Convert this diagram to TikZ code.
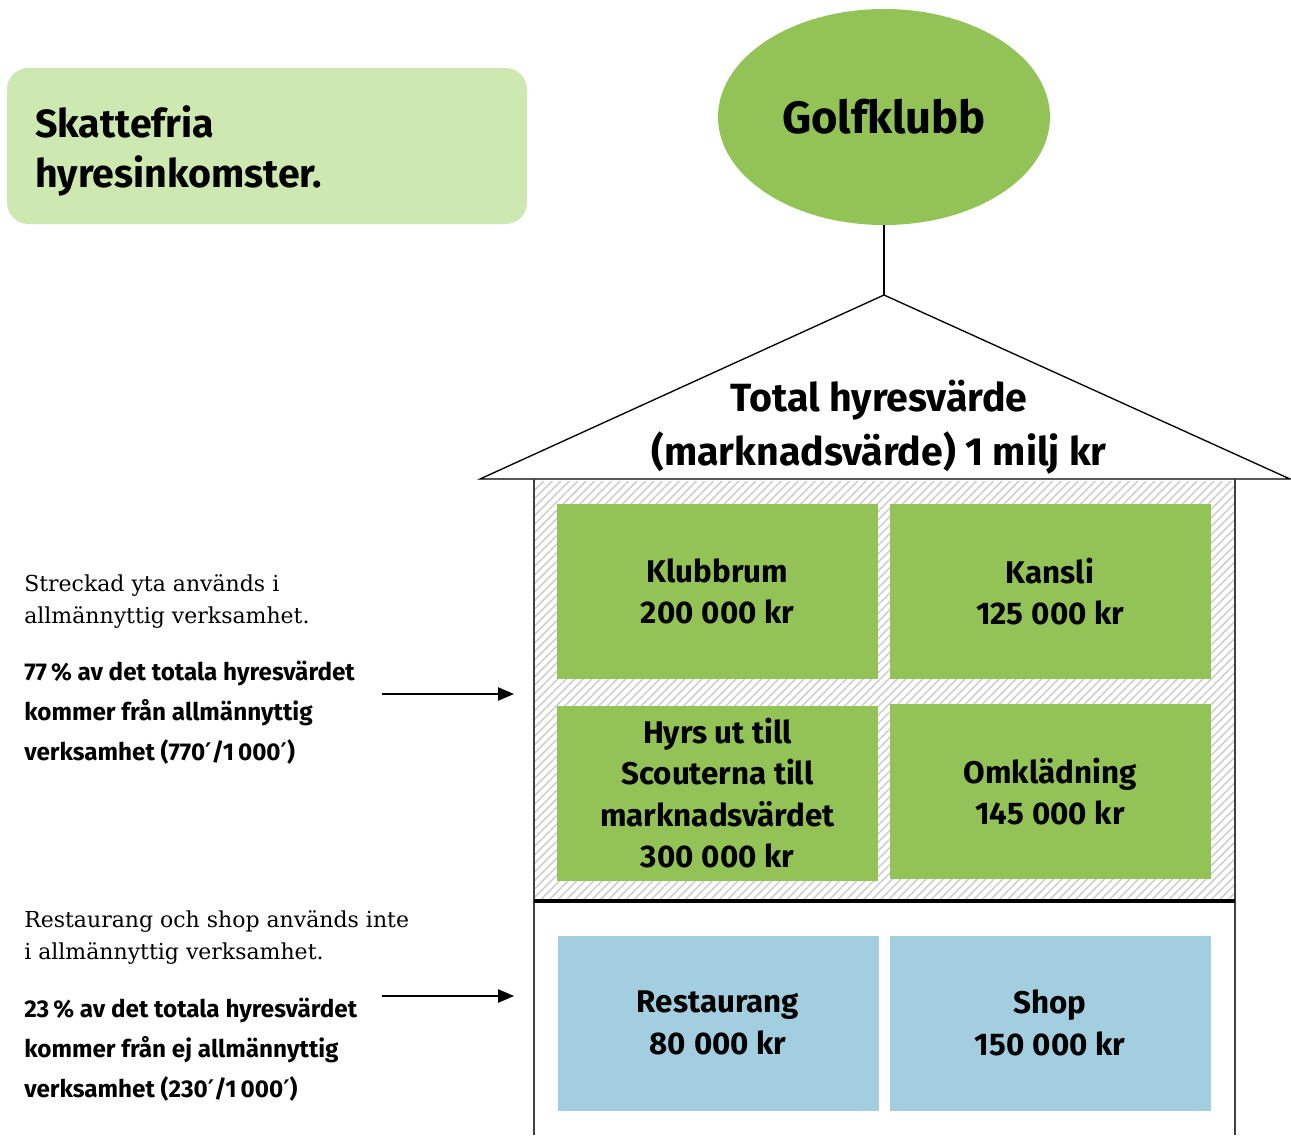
\documentclass[tikz,border=0pt]{standalone}
\usepackage{fontspec}
\setmainfont{DejaVu Serif}
\setsansfont{Fira Sans}
\newfontfamily\primefont{DejaVu Sans}
\newcommand\primemk{{\primefont\bfseries ′}}
\newcommand\numsp{\hspace{0.26em}}
\usetikzlibrary{patterns.meta,arrows.meta,shapes.geometric}
\definecolor{lgreen}{HTML}{CDE8B0}
\definecolor{mgreen}{HTML}{93C356}
\definecolor{lblue}{HTML}{A3CEDF}
\definecolor{wallgray}{HTML}{404040}
\tikzset{
  roomgreen/.style={fill=mgreen,draw=none,minimum width=240.75pt,minimum height=131.25pt,align=center,inner sep=0pt,
    font=\sffamily\bfseries\fontsize{23.5}{31}\selectfont},
  roomblue/.style={roomgreen,fill=lblue},
  sidenote/.style={anchor=north west,align=left,inner sep=0pt,font=\fontsize{16.5}{24}\selectfont},
  sidebold/.style={anchor=north west,align=left,inner sep=0pt,font=\sffamily\bfseries\fontsize{18.2}{30}\selectfont},
  pointer/.style={-{Triangle[length=12pt,width=10pt]},line width=1pt}
}
\begin{document}
\begin{tikzpicture}[x=0.75pt,y=-0.75pt]
\useasboundingbox (0,0) rectangle (1291,1135);
% title box
\fill[lgreen,rounded corners=16pt] (7,68) rectangle (527,224);
\node[anchor=north west,align=left,inner sep=0pt,font=\sffamily\bfseries\fontsize{29.5}{38}\selectfont] (title) at (35,105) {Skattefria\\hyresinkomster.};
% ellipse
\node[ellipse,fill=mgreen,minimum width=249pt,minimum height=162pt,inner sep=0pt,font=\sffamily\bfseries\fontsize{34}{40}\selectfont] (club) at (884,117) {Golfklubb};
% roof
\coordinate (apex) at (884,295);
\coordinate (eaveL) at (480,479);
\coordinate (eaveR) at (1290,479);
\draw[line width=1pt] (club.south) -- (apex);
\draw[line width=1pt] (eaveL) -- (apex) -- (eaveR) -- cycle;
\node[align=center,inner sep=0pt,font=\sffamily\bfseries\fontsize{29.5}{40}\selectfont] (total) at (879,427) {Total hyresvärde\\(marknadsvärde) 1 milj kr};
% hatched area
\fill[pattern={Lines[angle=45,distance=4.5pt,line width=1.2pt]},pattern color=black!19] (534,481) rectangle (1235,901);
% walls
\coordinate (wallLt) at (534,479);
\coordinate (wallLb) at (534,1135);
\coordinate (wallRt) at (1235,479);
\coordinate (wallRb) at (1235,1135);
\draw[line width=1.5pt,wallgray] (wallLt) -- (wallLb);
\draw[line width=1.5pt,wallgray] (wallRt) -- (wallRb);
\coordinate (floorL) at (534,901);
\coordinate (floorR) at (1235,901);
\draw[line width=2.6pt] (floorL) -- (floorR);
% rooms
\node[roomgreen] (klubb) at (717.5,591.5) {Klubbrum\\200\numsp000 kr};
\node[roomgreen] (kansli) at (1050,591.5) {Kansli\\125\numsp000 kr};
\node[roomgreen] (hyrs) at (717.5,793) {Hyrs ut till\\Scouterna till\\marknadsvärdet\\300\numsp000 kr};
\node[roomgreen] (omkl) at (1050,791.5) {Omklädning\\145\numsp000 kr};
\node[roomblue] (rest) at (718,1023) {Restaurang\\80\numsp000 kr};
\node[roomblue] (shop) at (1050,1023) {Shop\\150\numsp000 kr};
% side notes
\node[sidenote] (note1) at (24,574) {Streckad yta används i\\allmännyttig verksamhet.};
\node[sidebold] (bold1) at (24,661) {77\,\% av det totala hyresvärdet\\kommer från allmännyttig\\verksamhet (770\primemk/1\,000\primemk)};
\node[sidenote] (note2) at (24,910) {Restaurang och shop används inte\\i allmännyttig verksamhet.};
\node[sidebold] (bold2) at (24,998) {23\,\% av det totala hyresvärdet\\kommer från ej allmännyttig\\verksamhet (230\primemk/1\,000\primemk)};
\coordinate (a1s) at (382,694);
\coordinate (a1e) at (514,694);
\coordinate (a2s) at (382,996);
\coordinate (a2e) at (514,996);
\draw[pointer] (a1s) -- (a1e);
\draw[pointer] (a2s) -- (a2e);
\end{tikzpicture}
\end{document}
